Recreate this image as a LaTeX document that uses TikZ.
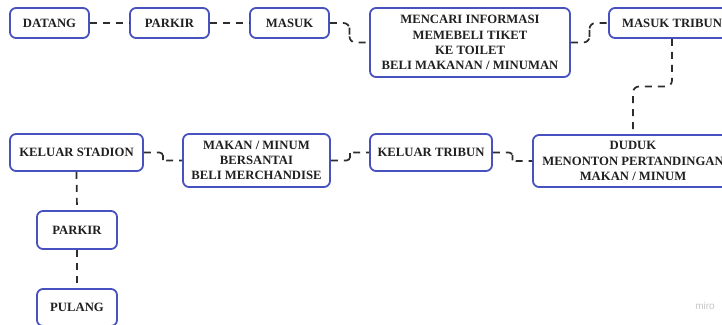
\documentclass[tikz,border=0pt]{standalone}
\usepackage{fontspec}
\setmainfont{Liberation Serif}
\setsansfont{Liberation Sans}
\usetikzlibrary{calc}
\definecolor{boxblue}{RGB}{72,82,190}
\definecolor{txt}{RGB}{32,32,32}
\definecolor{lnk}{RGB}{45,45,45}
\tikzset{
  box/.style={draw=boxblue, line width=1.8pt, rounded corners=6pt, fill=white,
    text=txt, font=\fontsize{12.7}{15.2}\selectfont\bfseries, align=center,
    inner sep=0pt, minimum width=#1},
  box/.default=79pt,
  conn/.style={draw=lnk, line width=1.7pt, dash pattern=on 7pt off 6pt, rounded corners=6pt},
  shortconn/.style={conn, rounded corners=3.5pt},
}
\begin{document}
\begin{tikzpicture}[x=1pt,y=-1pt]
\useasboundingbox (0,0) rectangle (722,324);
\clip (0,0) rectangle (722,324);
\fill[white] (0,0) rectangle (722,324);
% nodes
\node[box=79pt, minimum height=30pt] (datang) at (49.5,23) {DATANG};
\node[box=79pt, minimum height=30pt] (parkirA) at (169.5,23) {PARKIR};
\node[box=79pt, minimum height=30pt] (masuk) at (289.5,23) {MASUK};
\node[box=200pt, minimum height=69pt] (mencari) at (470,42.5) {MENCARI INFORMASI\\MEMEBELI TIKET\\KE TOILET\\BELI MAKANAN / MINUMAN};
\node[box=126pt, minimum height=30pt] (mtribun) at (672,23) {MASUK TRIBUN};
\node[box=200pt, minimum height=52pt] (duduk) at (633,161) {DUDUK\\MENONTON PERTANDINGAN\\MAKAN / MINUM};
\node[box=122pt, minimum height=37pt] (ktribun) at (431,152.5) {KELUAR TRIBUN};
\node[box=147pt, minimum height=53pt] (makan) at (256.5,160.5) {MAKAN / MINUM\\BERSANTAI\\BELI MERCHANDISE};
\node[box=133pt, minimum height=37pt] (kstadion) at (76.5,152.5) {KELUAR STADION};
\node[box=80pt, minimum height=38pt] (parkirB) at (77,230) {PARKIR};
\node[box=80pt, minimum height=37pt] (pulang) at (77,307.5) {PULANG};
\node[text=black!22, font=\sffamily\fontsize{10}{11}\selectfont] (miro) at (705,306) {miro};
% connectors
\draw[conn] (datang.east) -- (parkirA.west);
\draw[conn] (parkirA.east) -- (masuk.west);
\coordinate (m1) at ($(masuk.east)!0.5!(mencari.west)$);
\draw[conn] (masuk.east) -| (m1) |- (mencari.west);
\coordinate (m2) at ($(mencari.east)!0.5!(mtribun.west)$);
\draw[conn] (mencari.east) -| (m2) |- (mtribun.west);
\coordinate (m3) at ($(mtribun.south)!0.5!(duduk.north)$);
\draw[conn] (mtribun.south) |- (m3) -| (duduk.north);
\coordinate (m4) at ($(ktribun.east)!0.5!(duduk.west)$);
\draw[shortconn] (ktribun.east) -| (m4) |- (duduk.west);
\coordinate (m5) at ($(makan.east)!0.5!(ktribun.west)$);
\draw[shortconn] (makan.east) -| (m5) |- (ktribun.west);
\coordinate (m6) at ($(kstadion.east)!0.5!(makan.west)$);
\draw[shortconn] (kstadion.east) -| (m6) |- (makan.west);
\draw[conn] (kstadion.south) -- (parkirB.north);
\draw[conn] (parkirB.south) -- (pulang.north);
\end{tikzpicture}
\end{document}
